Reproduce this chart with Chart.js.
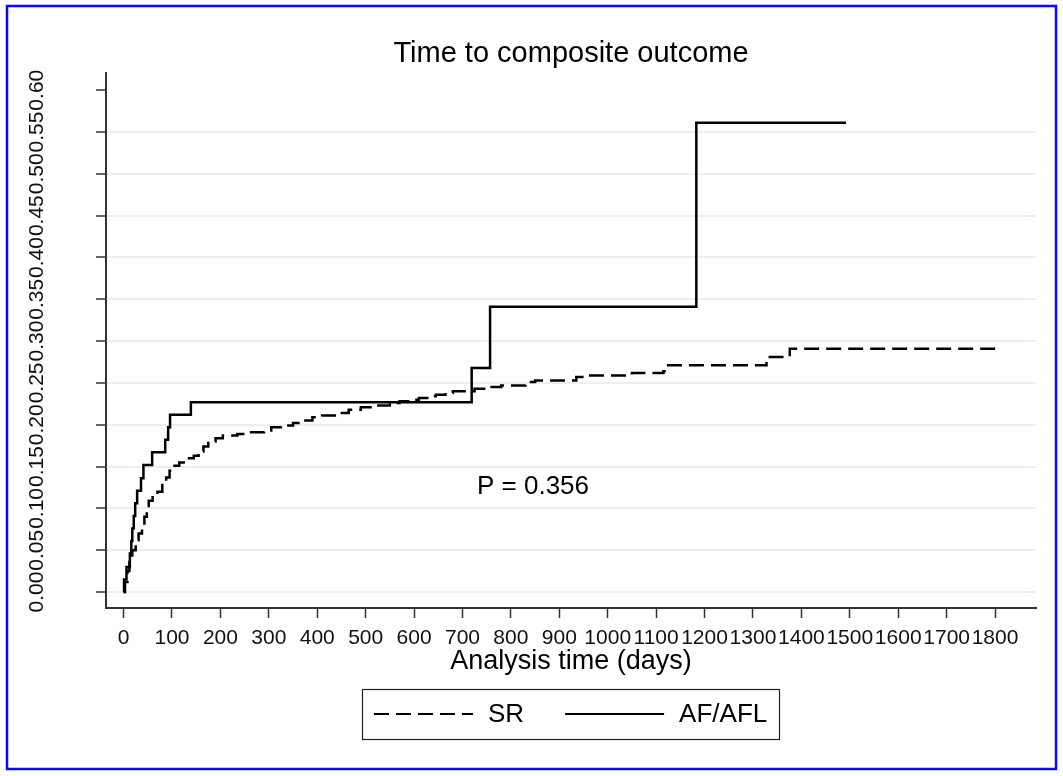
<!DOCTYPE html>
<html lang="en">
<head>
<meta charset="UTF-8">
<title>Time to composite outcome</title>
<script src="https://cdn.jsdelivr.net/npm/chart.js"></script>
<style>
  html, body { margin: 0; padding: 0; background: #ffffff; }
  #wrap { width: 1063px; height: 776px; }
</style>
</head>
<body>
<div id="wrap"><canvas id="kmChart" width="1063" height="776"></canvas></div>
<script>
// cumulative incidence (step points: day, risk after event)
const srDays = [0, 3, 8, 12, 18, 25, 31, 38, 43, 48, 52, 60, 70, 80, 88, 95, 102, 115, 130, 145,
  155, 165, 175, 190, 205, 235, 260, 290, 305, 325, 350, 370, 390, 410, 440, 465, 490, 520, 550, 570,
  590, 610, 630, 645, 665, 680, 725, 760, 780, 830, 850, 935, 960, 1050, 1115, 1122, 1328, 1376, 1813];
const srRisk = [0, 0.012, 0.025, 0.040, 0.050, 0.062, 0.070, 0.076, 0.090, 0.100, 0.109, 0.115, 0.120, 0.128, 0.137, 0.145, 0.151, 0.155, 0.160, 0.163,
  0.168, 0.174, 0.180, 0.184, 0.187, 0.189, 0.191, 0.193, 0.197, 0.199, 0.202, 0.205, 0.209, 0.211, 0.214, 0.218, 0.221, 0.223, 0.226, 0.228,
  0.230, 0.232, 0.234, 0.236, 0.238, 0.240, 0.243, 0.245, 0.247, 0.251, 0.253, 0.257, 0.259, 0.262, 0.264, 0.271, 0.281, 0.291, 0.291];

const afDays = [0, 1, 6, 13, 16, 18, 21, 24, 28, 36, 41, 59, 86, 92, 96, 139, 719, 757, 1183, 1492];
const afRisk = [0, 0.015, 0.030, 0.046, 0.061, 0.076, 0.091, 0.106, 0.121, 0.136, 0.152, 0.167, 0.182, 0.197, 0.212, 0.227, 0.268, 0.341, 0.561, 0.561];

const xTicks = [0, 100, 200, 300, 400, 500, 600, 700, 800, 900, 1000, 1100, 1200, 1300, 1400, 1500, 1600, 1700, 1800];
const yTicks = [0, 0.05, 0.10, 0.15, 0.20, 0.25, 0.30, 0.35, 0.40, 0.45, 0.50, 0.55, 0.60];

const pValueLabel = 'P = 0.356';
const pValueAt = { day: 730, risk: 0.117 };

const FONT = '"Liberation Sans", Arial, Helvetica, sans-serif';
Chart.defaults.font.family = FONT;

const toPoints = (days, risk) => days.map((d, i) => ({ x: d, y: risk[i] }));

// white page + blue outer frame
const framePlugin = {
    id: 'frame',
    beforeDraw(chart) {
        const c = chart.ctx;
        c.save();
        c.fillStyle = '#ffffff';
        c.fillRect(0, 0, chart.width, chart.height);
        c.restore();
    },
    afterDraw(chart) {
        const c = chart.ctx;
        c.save();
        c.strokeStyle = '#0a0aff';
        c.lineWidth = 2.5;
        c.strokeRect(7, 6, 1049, 763);
        c.restore();
    }
};

// p-value text inside the plot
const pValuePlugin = {
    id: 'pValue',
    afterDatasetsDraw(chart) {
        const c = chart.ctx;
        const x = chart.scales.x.getPixelForValue(pValueAt.day);
        const y = chart.scales.y.getPixelForValue(pValueAt.risk);
        c.save();
        c.font = '26px ' + FONT;
        c.fillStyle = '#000';
        c.textAlign = 'left';
        c.textBaseline = 'alphabetic';
        c.fillText(pValueLabel, x, y);
        c.restore();
    }
};

// Stata-like legend in a box under the axis title
const boxLegendPlugin = {
    id: 'boxLegend',
    afterDraw(chart) {
        const c = chart.ctx;
        const area = chart.chartArea;
        const sets = chart.data.datasets;
        const lineLen = 99, textGap = 15, itemGap = 41, pad = 12, boxH = 50, midY = 714;
        c.save();
        c.font = '26px ' + FONT;
        const widths = sets.map(ds => lineLen + textGap + c.measureText(ds.label).width);
        const total = pad * 2 + widths.reduce((a, b) => a + b, 0) + itemGap * (sets.length - 1);
        const left = Math.round((area.left + area.right) / 2 - total / 2);
        c.strokeStyle = '#222';
        c.lineWidth = 1.2;
        c.strokeRect(left + 0.5, midY - boxH / 2 + 0.5, Math.round(total), boxH);
        let x = left + pad;
        sets.forEach((ds, i) => {
            c.setLineDash(ds.borderDash || []);
            c.lineWidth = 2;
            c.strokeStyle = ds.borderColor;
            c.beginPath();
            c.moveTo(x, midY);
            c.lineTo(x + lineLen, midY);
            c.stroke();
            c.setLineDash([]);
            c.fillStyle = '#000';
            c.textAlign = 'left';
            c.textBaseline = 'middle';
            c.fillText(ds.label, x + lineLen + textGap, midY + 1);
            x += widths[i] + itemGap;
        });
        c.restore();
    }
};

const ctx = document.getElementById('kmChart').getContext('2d');
new Chart(ctx, {
    type: 'line',
    data: {
        datasets: [{
            label: 'SR',
            data: toPoints(srDays, srRisk),
            borderColor: '#000',
            borderWidth: 2.5,
            borderDash: [15, 7],
            stepped: true,
            pointRadius: 0,
            fill: false
        }, {
            label: 'AF/AFL',
            data: toPoints(afDays, afRisk),
            borderColor: '#000',
            borderWidth: 2.5,
            stepped: true,
            pointRadius: 0,
            fill: false
        }]
    },
    options: {
        responsive: false,
        animation: false,
        devicePixelRatio: 1,
        layout: { padding: { left: 0, right: 27, top: 0, bottom: 88 } },
        plugins: {
            legend: { display: false },
            tooltip: { enabled: false },
            title: {
                display: true,
                fullSize: false,
                text: 'Time to composite outcome',
                color: '#000',
                font: { family: FONT, size: 29, weight: 'normal' },
                padding: { top: 37, bottom: 1 }
            }
        },
        scales: {
            x: {
                type: 'linear',
                min: -36.3,
                max: 1884.6,
                afterBuildTicks: s => { s.ticks = xTicks.map(v => ({ value: v })); },
                afterFit: s => { s.height = 80; },
                grid: { display: true, drawOnChartArea: false, drawTicks: true, tickLength: 10, tickColor: '#333', tickWidth: 1.5 },
                border: { display: true, color: '#333', width: 2 },
                ticks: {
                    color: '#111',
                    font: { family: FONT, size: 21 },
                    padding: 8,
                    autoSkip: false,
                    maxRotation: 0,
                    callback: v => String(v)
                },
                title: {
                    display: true,
                    text: 'Analysis time (days)',
                    color: '#000',
                    font: { family: FONT, size: 27 },
                    padding: { top: 0, bottom: 10 }
                }
            },
            y: {
                type: 'linear',
                min: -0.0191,
                max: 0.6208,
                afterBuildTicks: s => { s.ticks = yTicks.map(v => ({ value: v })); },
                afterFit: s => { s.width = 106; },
                grid: {
                    color: c => (c.tick && c.tick.value > 0.59) ? 'rgba(0,0,0,0)' : '#e8f0f2',
                    lineWidth: 2,
                    tickLength: 10,
                    tickColor: '#333',
                    tickWidth: 1.5
                },
                border: { display: true, color: '#333', width: 2 },
                ticks: {
                    color: '#111',
                    font: { family: FONT, size: 21 },
                    minRotation: 90,
                    maxRotation: 90,
                    crossAlign: 'center',
                    padding: 38,
                    autoSkip: false,
                    callback: v => v.toFixed(2)
                }
            }
        }
    },
    plugins: [framePlugin, pValuePlugin, boxLegendPlugin]
});
</script>
</body>
</html>
